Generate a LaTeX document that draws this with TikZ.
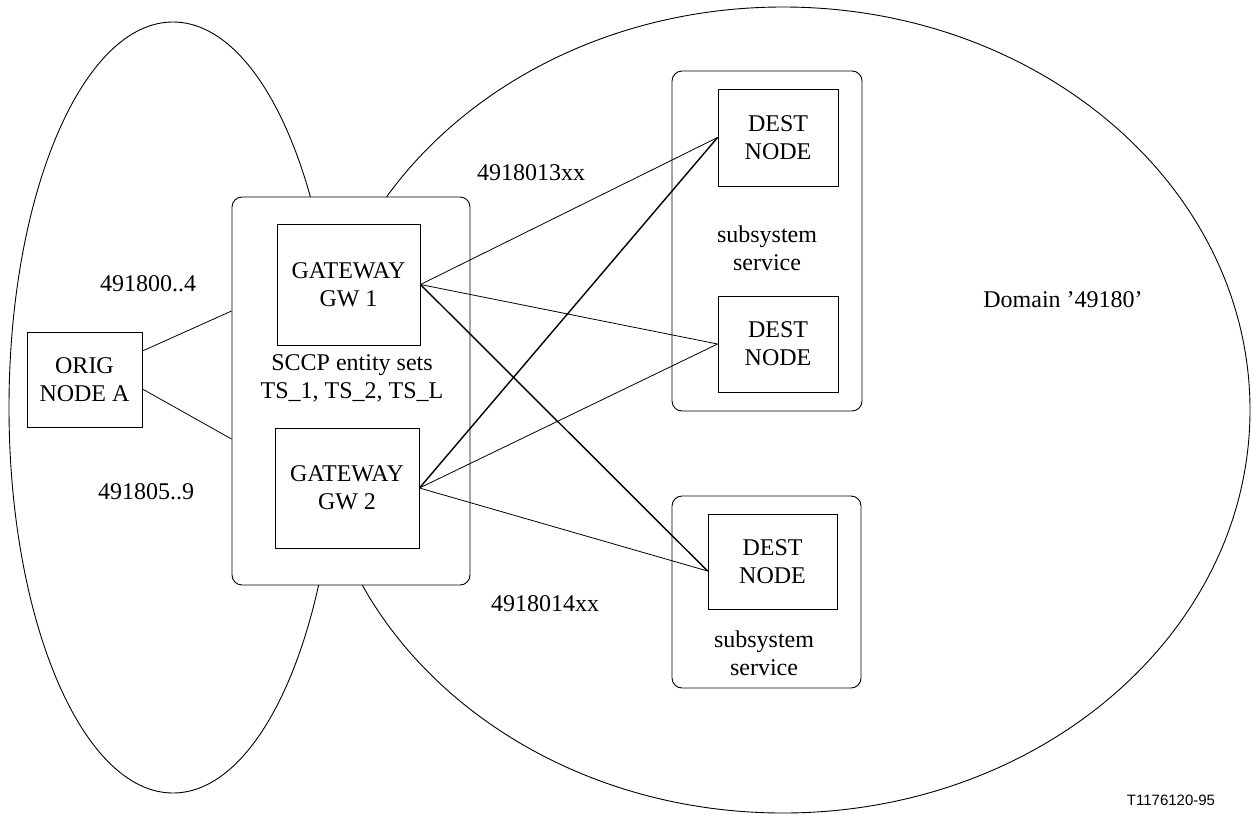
\documentclass[tikz,border=0pt]{standalone}
\usepackage{fontspec}
\setmainfont{Liberation Serif}
\newfontfamily\labelsans{Liberation Sans}
\usetikzlibrary{calc}
\begin{document}
\begin{tikzpicture}[x=1pt,y=-1pt,
  font=\fontsize{24}{28}\selectfont,
  every node/.style={inner sep=0pt},
  plainbox/.style={draw, line width=0.9pt, align=center, fill=white},
  groupbox/.style={draw, line width=0.9pt, rounded corners=10pt, fill=white},
  textblock/.style={align=center},
  link/.style={line width=0.8pt},
  heavylink/.style={line width=1.4pt},
  region/.style={line width=0.9pt}]
\useasboundingbox (0,0) rectangle (1252,814);

% network regions
\draw[region] (173,407.5) ellipse [x radius=164, y radius=385.5];
\draw[region] (783,410) ellipse [x radius=467, y radius=403];

% grouping boxes
\node[groupbox, minimum width=238pt, minimum height=388pt] (gwg) at (351,391) {};
\node[groupbox, minimum width=190pt, minimum height=340pt] (ssa) at (767,241) {};
\node[groupbox, minimum width=189pt, minimum height=192pt] (ssb) at (766.5,592) {};

% nodes
\node[plainbox, minimum width=115pt, minimum height=95pt] (orig) at (84.5,379.5) {ORIG\\NODE A};
\node[plainbox, minimum width=143pt, minimum height=121pt] (gw1) at (348.5,284.5) {GATEWAY\\GW 1};
\node[plainbox, minimum width=144pt, minimum height=120pt] (gw2) at (347,488) {GATEWAY\\GW 2};
\node[plainbox, minimum width=120pt, minimum height=97pt] (d1) at (778,137.5) {DEST\\NODE};
\node[plainbox, minimum width=120pt, minimum height=96pt] (d2) at (778,344) {DEST\\NODE};
\node[plainbox, minimum width=129pt, minimum height=95pt] (d3) at (772.5,561.5) {DEST\\NODE};

% texts
\node[textblock] (sccp) at (352,378.5) {SCCP entity sets\\TS\_1, TS\_2, TS\_L};
\node[textblock] (ssta) at (767,248.5) {subsystem\\service};
\node[textblock] (sstb) at (764,653) {subsystem\\service};
\node (ra) at (148,284) {491800..4};
\node (rb) at (146,492) {491805..9};
\node (rc) at (531,173) {4918013xx};
\node (rd) at (545,604) {4918014xx};
\node (dom) at (1063,300) {Domain '49180'};
\node[font=\labelsans\fontsize{15}{18}\selectfont] (code) at (1171,800) {T1176120-95};

% connections
\draw[link] ([yshift=28.5pt]orig.east) -- ([yshift=80pt]gwg.west);
\draw[link] ([yshift=-9.5pt]orig.east) -- ([yshift=-48pt]gwg.west);
\draw[link] (gw1.east) -- (d1.west);
\draw[link] (gw1.east) -- (d2.west);
\draw[heavylink] (gw1.east) -- ([yshift=-9.5pt]d3.west);
\draw[heavylink] (gw2.east) -- (d1.west);
\draw[link] (gw2.east) -- (d2.west);
\draw[link] (gw2.east) -- ([yshift=-9.5pt]d3.west);
\end{tikzpicture}
\end{document}
